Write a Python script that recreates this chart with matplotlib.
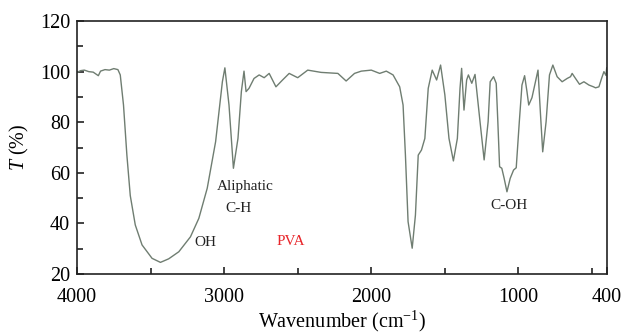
import numpy as np
import matplotlib.pyplot as plt
from matplotlib.ticker import MultipleLocator

plt.rcParams['font.family'] = ['Liberation Serif', 'DejaVu Serif']
plt.rcParams['mathtext.fontset'] = 'custom'
plt.rcParams['mathtext.rm'] = 'Liberation Serif'
plt.rcParams['mathtext.it'] = 'Liberation Serif:italic'

# wavenumber (cm-1) and transmittance (%)
wavenumber = [4000, 3975, 3950, 3920, 3890, 3870, 3855, 3840, 3810, 3780, 3750, 3722,
              3706, 3684, 3661, 3638, 3604, 3558, 3490, 3433, 3377, 3308, 3229,
              3172, 3115, 3058, 3012, 2995, 2967, 2937, 2906, 2883, 2865, 2851,
              2831, 2797, 2762, 2728, 2694, 2648, 2603, 2558, 2500, 2432, 2341,
              2227, 2171, 2114, 2068, 2000, 1943, 1898, 1852, 1807, 1784, 1768,
              1750, 1722, 1700, 1681, 1659, 1636, 1613, 1586, 1556, 1529, 1500,
              1472, 1442, 1415, 1397, 1386, 1370, 1352, 1340, 1317, 1295, 1261,
              1233, 1206, 1192, 1169, 1151, 1140, 1128, 1113, 1097, 1078, 1056,
              1033, 1015, 994, 976, 958, 942, 930, 908, 867, 851, 835, 812, 789,
              766, 737, 703, 669, 646, 635, 612, 585, 555, 521, 490, 476, 453,
              435, 419, 405, 400]
transmittance = [99.7, 100.4, 100.6, 100.0, 99.8, 99.0, 98.4, 100.2, 100.8, 100.6, 101.2, 100.8,
                 98.7, 86.8, 67.0, 51.0, 39.4, 31.5, 26.2, 24.6, 26.0, 28.8, 34.7,
                 42.0, 53.9, 72.3, 96.0, 101.5, 86.8, 61.8, 73.6, 92.1, 100.2, 92.1,
                 93.4, 97.3, 98.7, 97.6, 99.3, 94.0, 96.7, 99.3, 97.6, 100.6, 99.7,
                 99.3, 96.3, 99.3, 100.2, 100.6, 99.3, 100.2, 98.7, 94.0, 86.8, 67.0,
                 40.7, 30.2, 43.3, 67.0, 69.0, 73.6, 93.4, 100.6, 96.7, 102.6, 90.8,
                 73.6, 64.7, 73.6, 93.4, 101.3, 84.8, 96.7, 98.7, 95.4, 98.9, 80.2,
                 65.1, 80.2, 96.0, 98.0, 95.4, 80.2, 62.4, 61.8, 57.8, 52.5, 57.8,
                 61.1, 62.0, 80.2, 94.7, 98.4, 92.1, 86.8, 89.7, 100.6, 84.1, 68.3, 80.2, 98.7,
                 102.6, 98.0, 96.0, 97.3, 98.0, 99.3, 97.3, 95.0, 96.0, 94.7, 94.0, 93.6, 94.0,
                 97.3, 100.0, 98.5, 101.5]

labels = ['Aliphatic', 'C-H', 'OH', 'PVA', 'C-OH']
label_x = [2853, 2901, 3126, 2546, 1065]
label_y = [54.4, 46.0, 32.3, 33.0, 46.9]
label_colors = ['#222222', '#222222', '#222222', '#e8262b', '#222222']

fig = plt.figure(figsize=(6.24, 3.34), dpi=100)
ax = fig.add_axes([0.1234, 0.1796, 0.8489, 0.7574])

ax.plot(wavenumber, transmittance, color='#6f7d71', lw=1.0)

for t, x, y, c in zip(labels, label_x, label_y, label_colors):
    ax.text(x, y, t, color=c, fontsize=11, ha='center', va='center')

ax.set_xlim(4000, 400)
ax.set_ylim(20, 120)
ax.set_xticks([4000, 3000, 2000, 1000, 400])
ax.xaxis.set_minor_locator(MultipleLocator(500))
ax.yaxis.set_major_locator(MultipleLocator(20))
ax.yaxis.set_minor_locator(MultipleLocator(10))
ax.tick_params(which='both', direction='in', labelsize=14.5, width=1.2, color='#222222')
ax.tick_params(which='major', length=5)
ax.tick_params(which='minor', length=4)
ax.tick_params(axis='x', pad=10)
ax.tick_params(axis='y', pad=5)
for s in ax.spines.values():
    s.set_linewidth(1.2)
    s.set_color('#222222')

ax.set_xlabel('Wavenumber (cm$^{-1}$)', fontsize=14.5, labelpad=1)
ax.set_ylabel('$T$ (%)', fontsize=14.5, labelpad=6)

fig.savefig('out.png', dpi=100)
